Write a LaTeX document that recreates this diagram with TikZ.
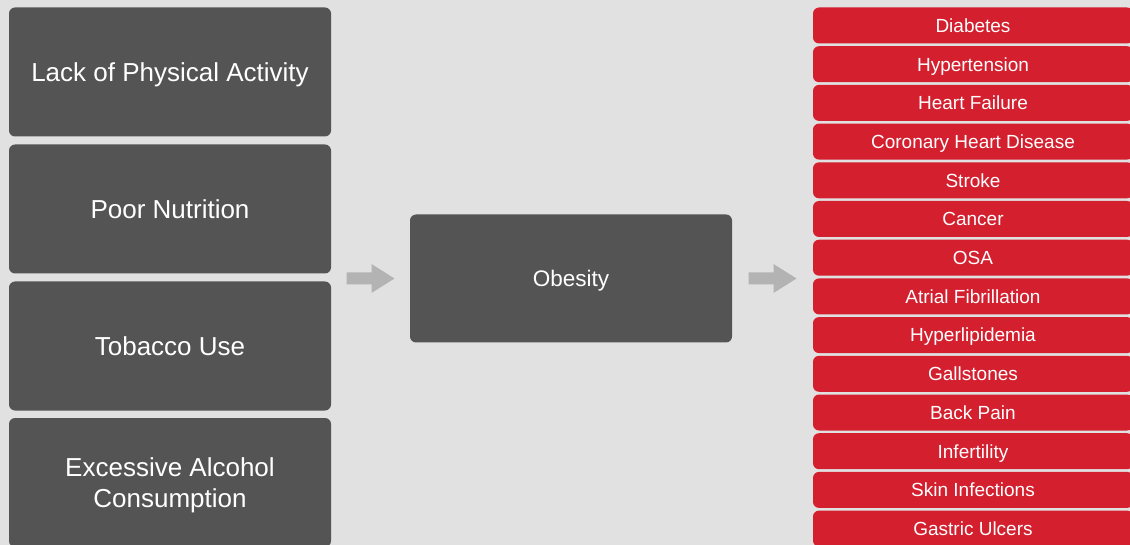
\documentclass[tikz,border=0pt]{standalone}
\usepackage{fontspec}
\setmainfont{Liberation Sans}
\usetikzlibrary{calc}
\definecolor{bg}{HTML}{E1E1E1}
\definecolor{darkbox}{HTML}{545454}
\definecolor{redbox}{HTML}{D31F2E}
\definecolor{arrgray}{HTML}{B3B3B3}
\tikzset{
  cause/.style={fill=darkbox, rounded corners=6pt, minimum width=322pt, minimum height=129pt, inner sep=0pt, text=white, align=center, font=\fontsize{26}{30.7}\selectfont},
  onecause/.style={cause, text height=18.7pt, text depth=0pt},
  center box/.style={fill=darkbox, rounded corners=6pt, minimum width=322pt, minimum height=128pt, inner sep=0pt, text=white, text height=16.2pt, text depth=0pt, font=\fontsize{22.5}{27}\selectfont},
  effect/.style={fill=redbox, rounded corners=6pt, minimum width=320pt, minimum height=36pt, inner sep=0pt, text=white, text height=13.7pt, text depth=0pt, font=\fontsize{19}{22}\selectfont},
  arr/.style={fill=arrgray}
}
\begin{document}
\begin{tikzpicture}[x=1pt,y=-1pt]
\fill[bg] (0,0) rectangle (1130,545);
\useasboundingbox (0,0) rectangle (1130,545);
\node[onecause] (c1) at (170,72) {Lack of Physical Activity};
\node[onecause] (c2) at (170,209) {Poor Nutrition};
\node[onecause] (c3) at (170,346) {Tobacco Use};
\node[cause, text depth=0pt] (c4) at (170,482.5) {Excessive Alcohol\\Consumption};
\node[center box] (ob) at (571,278.5) {Obesity};
\foreach \t [count=\i from 0] in {Diabetes,Hypertension,Heart Failure,Coronary Heart Disease,Stroke,Cancer,OSA,Atrial Fibrillation,Hyperlipidemia,Gallstones,Back Pain,Infertility,Skin Infections,Gastric Ulcers}{
  \node[effect] (e\i) at (973,25.5+38.7*\i) {\t};
}
\coordinate (a1) at ($(c3.east|-ob.west)!0.5!(ob.west)$);
\coordinate (a2) at ($(ob.east)!0.5!(e6.west|-ob.east)$);
\foreach \a in {a1,a2}{
  \fill[arr] ($(\a)+(-24,-6)$) -- ++(25,0) -- ++(0,-8.5) -- ++(23,14.5) -- ++(-23,14.5) -- ++(0,-8.5) -- ++(-25,0) -- cycle;
}
\end{tikzpicture}
\end{document}
